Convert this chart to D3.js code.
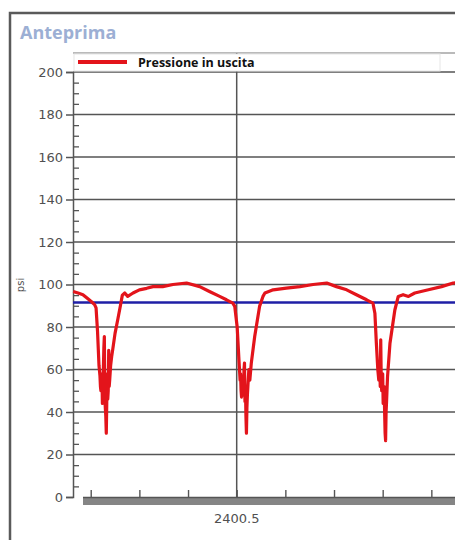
<!DOCTYPE html>
<html>
<head>
<meta charset="utf-8">
<script src="https://cdn.jsdelivr.net/npm/d3@7"></script>
<style>
  body { margin: 0; background: #fff; }
  svg { display: block; }
</style>
</head>
<body>
<div id="viz"></div>
<script>
var width = 455,
    height = 540;

var rosso = '#e3141b',
    blu = '#1f1fa6',
    griglia = '#555555',
    testo = '#505050';

// tempo (s) e pressione (psi)
var tempo = [
  2400.164, 2400.174, 2400.184, 2400.193, 2400.201, 2400.208, 2400.211, 2400.214,
  2400.217, 2400.219, 2400.220, 2400.221, 2400.222, 2400.223, 2400.224, 2400.225,
  2400.226, 2400.227, 2400.228, 2400.229, 2400.230, 2400.231, 2400.232, 2400.233,
  2400.234, 2400.235, 2400.236, 2400.237, 2400.238, 2400.239, 2400.241, 2400.243,
  2400.245, 2400.250, 2400.256, 2400.261, 2400.265, 2400.270, 2400.276, 2400.287,
  2400.300, 2400.315, 2400.328, 2400.348, 2400.369, 2400.397, 2400.424, 2400.444,
  2400.465, 2400.479, 2400.492, 2400.496, 2400.501, 2400.505, 2400.507, 2400.508,
  2400.509, 2400.510, 2400.511, 2400.512, 2400.513, 2400.514, 2400.515, 2400.516,
  2400.517, 2400.518, 2400.519, 2400.520, 2400.521, 2400.522, 2400.523, 2400.525,
  2400.527, 2400.530, 2400.537, 2400.547, 2400.554, 2400.558, 2400.575, 2400.602,
  2400.630, 2400.657, 2400.685, 2400.705, 2400.726, 2400.746, 2400.767, 2400.780,
  2400.784, 2400.787, 2400.790, 2400.792, 2400.793, 2400.794, 2400.795, 2400.796,
  2400.797, 2400.798, 2400.799, 2400.800, 2400.801, 2400.802, 2400.803, 2400.804,
  2400.805, 2400.806, 2400.807, 2400.808, 2400.810, 2400.815, 2400.825, 2400.832,
  2400.842, 2400.853, 2400.866, 2400.894, 2400.921, 2400.945, 2400.980
];
var pressione = [
  96.7, 96.0, 95.2, 93.5, 92.0, 90.5, 89.0, 78.0,
  62.0, 57.0, 52.0, 50.0, 56.0, 58.0, 44.0, 54.0,
  60.0, 70.0, 75.5, 48.0, 42.0, 38.0, 30.0, 45.0,
  58.0, 46.0, 50.0, 69.0, 52.0, 55.0, 62.0, 66.0,
  69.0, 77.0, 84.0, 90.0, 95.0, 96.0, 94.4, 96.0,
  97.5, 98.2, 99.0, 99.0, 100.0, 100.7, 99.0, 96.7,
  94.4, 92.8, 91.2, 89.7, 80.0, 63.0, 55.0, 58.0,
  50.0, 47.0, 54.0, 56.0, 48.0, 50.0, 60.0, 63.0,
  45.0, 52.0, 38.0, 30.0, 42.0, 48.0, 52.0, 60.0,
  55.0, 63.0, 75.5, 89.7, 94.4, 96.0, 97.5, 98.3,
  99.0, 100.0, 100.7, 99.0, 97.5, 95.2, 92.8, 91.2,
  86.5, 72.4, 60.0, 55.0, 58.0, 62.0, 52.0, 74.0,
  56.0, 50.0, 54.0, 58.0, 44.0, 50.0, 52.0, 40.0,
  30.0, 26.5, 40.0, 45.0, 56.7, 72.4, 88.0, 94.4,
  95.2, 94.4, 96.0, 97.5, 99.0, 100.7, 101.0
];
var soglia = 91.5;
var yTicks = [0, 20, 40, 60, 80, 100, 120, 140, 160, 180, 200];
var xTickLabels = [2400.5];

var svg = d3.select('#viz')
  .append('svg')
  .attr('width', width)
  .attr('height', height)
  .style('font-family', 'DejaVu Sans, sans-serif');

// cornice esterna
svg.append('rect')
  .attr('x', 10)
  .attr('y', 13)
  .attr('width', 470)
  .attr('height', 560)
  .style('fill', '#fff')
  .attr('stroke', '#5a5a5a')
  .attr('stroke-width', 2.5);

svg.append('text')
  .attr('x', 20)
  .attr('y', 39)
  .style('font-family', 'Open Sans, sans-serif')
  .style('font-weight', 'bold')
  .style('font-size', '18px')
  .style('fill', '#9cafd4')
  .text('Anteprima');

var x = d3.scaleLinear().domain([2400.1636, 2401.0]).range([73, 480]);
var y = d3.scaleLinear().domain([0, 200]).range([497, 72]);

var g = svg.append('g');

// griglia orizzontale
g.selectAll('.hgrid')
  .data(yTicks.filter(function(d) { return d > 0; }))
  .enter().append('line')
  .attr('x1', 73)
  .attr('x2', 480)
  .attr('y1', function(d) { return y(d); })
  .attr('y2', function(d) { return y(d); })
  .attr('stroke', griglia)
  .attr('stroke-width', 1.5);

// bordo superiore e griglia verticale
g.append('line')
  .attr('x1', 73).attr('x2', 480).attr('y1', 53).attr('y2', 53)
  .attr('stroke', '#777').attr('stroke-width', 1.2);

g.append('line')
  .attr('x1', x(2400.5)).attr('x2', x(2400.5)).attr('y1', 53).attr('y2', 505)
  .attr('stroke', griglia).attr('stroke-width', 1.5);

// asse y
var yAxis = d3.axisLeft(y).tickValues(yTicks).tickSize(7).tickPadding(3);
var gy = g.append('g').attr('transform', 'translate(73,0)').call(yAxis);
gy.select('.domain').attr('stroke', griglia).attr('stroke-width', 1.5);
gy.selectAll('.tick line').attr('stroke', griglia).attr('stroke-width', 1.5);
gy.selectAll('.tick text')
  .style('font-size', '13px')
  .style('font-family', 'DejaVu Sans, sans-serif')
  .style('fill', testo);

var yMinor = d3.axisRight(y)
  .tickValues(d3.range(0, 201, 5).filter(function(d) { return d % 20 !== 0; }))
  .tickSize(6).tickFormat('');
var gym = g.append('g').attr('transform', 'translate(73,0)').call(yMinor);
gym.select('.domain').remove();
gym.selectAll('.tick line').attr('stroke', griglia).attr('stroke-width', 1.3);

svg.append('text')
  .attr('transform', 'translate(24,285) rotate(-90)')
  .attr('text-anchor', 'middle')
  .style('font-size', '10px')
  .style('fill', testo)
  .text('psi');

// asse x: barra grigia
g.append('rect')
  .attr('x', 83).attr('y', 497)
  .attr('width', 400).attr('height', 8)
  .style('fill', '#858585');
g.append('line')
  .attr('x1', 83).attr('x2', 480).attr('y1', 497.5).attr('y2', 497.5)
  .attr('stroke', '#555').attr('stroke-width', 1.5);

var xMinor = d3.axisTop(x)
  .tickValues(d3.range(2400.2, 2401.0, 0.1))
  .tickSize(7).tickFormat('');
var gxm = g.append('g').attr('transform', 'translate(0,497)').call(xMinor);
gxm.select('.domain').remove();
gxm.selectAll('.tick line').attr('stroke', griglia).attr('stroke-width', 1.4);

g.selectAll('.xlab')
  .data(xTickLabels)
  .enter().append('text')
  .attr('x', function(d) { return x(d); })
  .attr('y', 523)
  .attr('text-anchor', 'middle')
  .style('font-size', '13px')
  .style('fill', testo)
  .text(function(d) { return d3.format('.1f')(d); });

// soglia blu
g.append('line')
  .attr('x1', 73).attr('x2', 480)
  .attr('y1', y(soglia)).attr('y2', y(soglia))
  .attr('stroke', blu).attr('stroke-width', 2.4);

// pressione in uscita
var punti = tempo.map(function(t, i) { return [t, pressione[i]]; });
var linea = d3.line()
  .x(function(d) { return x(d[0]); })
  .y(function(d) { return y(d[1]); });

g.append('path')
  .datum(punti)
  .attr('d', linea)
  .style('fill', 'none')
  .attr('stroke', rosso)
  .attr('stroke-width', 3.2)
  .attr('stroke-linejoin', 'round');

// legenda
var leg = svg.append('g');
leg.append('rect')
  .attr('x', 74).attr('y', 54)
  .attr('width', 366).attr('height', 17)
  .style('fill', '#fff')
  .attr('stroke', '#e6e6e6');
leg.append('line')
  .attr('x1', 78).attr('x2', 127).attr('y1', 62).attr('y2', 62)
  .attr('stroke', rosso).attr('stroke-width', 4);
leg.append('text')
  .attr('x', 138).attr('y', 66.5)
  .style('font-family', 'Open Sans, sans-serif')
  .style('font-weight', 'bold')
  .style('font-size', '12.5px')
  .style('fill', '#111')
  .text('Pressione in uscita');
</script>
</body>
</html>
